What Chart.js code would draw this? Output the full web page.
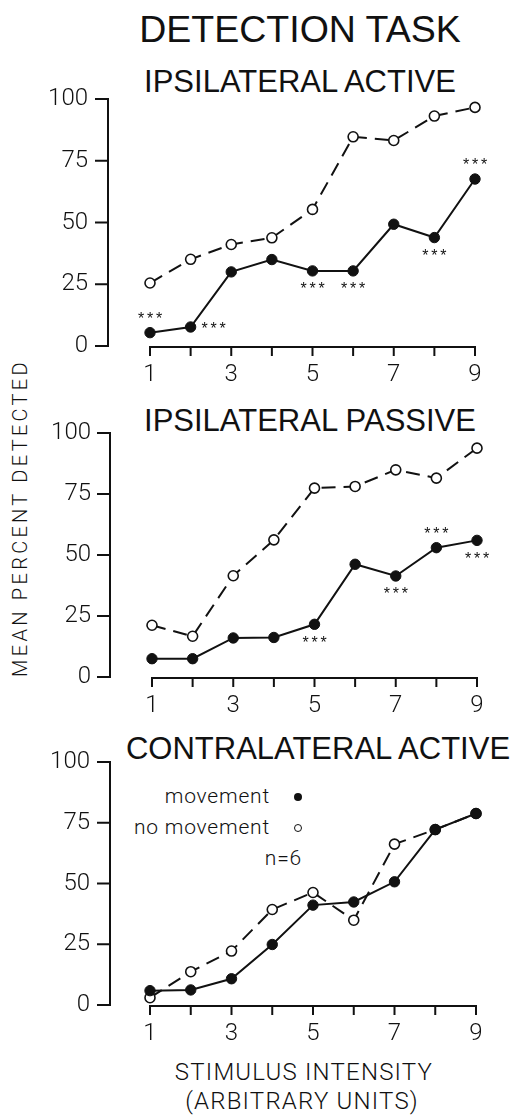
<!DOCTYPE html>
<html><head><meta charset="utf-8">
<script src="https://cdn.jsdelivr.net/npm/chart.js@4"></script>
<style>
html,body{margin:0;padding:0;background:#fff}
body{width:511px;height:1115px;position:relative;overflow:hidden;font-family:"Liberation Sans",Arial,sans-serif;color:#111}
.cv{position:absolute;left:0;width:511px}
.t{position:absolute;white-space:nowrap;transform:translate(-50%,-50%)}
.lt{font-family:Roboto,"Liberation Sans",sans-serif;font-weight:300}
.lg{position:absolute;white-space:nowrap;font-family:Roboto,"Liberation Sans",sans-serif;font-weight:300;font-size:21px;letter-spacing:0.8px;transform:translate(-100%,-50%)}
.dot{position:absolute;width:8px;height:8px;border-radius:50%;transform:translate(-50%,-50%);box-sizing:border-box}
</style></head><body>
<div class="t" style="left:300px;top:29px;font-size:37.5px">DETECTION TASK</div>
<div class="t" style="left:300px;top:82px;font-size:31px">IPSILATERAL ACTIVE</div>
<div class="t" style="left:310px;top:421px;font-size:31px">IPSILATERAL PASSIVE</div>
<div class="t" style="left:318px;top:749px;font-size:31px">CONTRALATERAL ACTIVE</div>
<div class="t lt" style="left:20px;top:518px;font-size:20px;letter-spacing:3.3px;transform:translate(-50%,-50%) rotate(-90deg)">MEAN PERCENT DETECTED</div>
<div class="t lt" style="left:304px;top:1072px;font-size:24px;letter-spacing:1.2px">STIMULUS INTENSITY</div>
<div class="t lt" style="left:302px;top:1101px;font-size:24px;letter-spacing:1.2px">(ARBITRARY UNITS)</div>
<div class="lg" style="left:270px;top:796px">movement</div>
<div class="lg" style="left:270px;top:827px">no movement</div>
<div class="lg" style="left:302px;top:858px">n=6</div>
<div class="dot" style="left:298px;top:797px;background:#111"></div>
<div class="dot" style="left:298px;top:828px;border:1.5px solid #111;background:#fff"></div>
<canvas id="c1" class="cv" style="top:60px;height:340px" width="511" height="340"></canvas>
<canvas id="c2" class="cv" style="top:400px;height:330px" width="511" height="330"></canvas>
<canvas id="c3" class="cv" style="top:730px;height:330px" width="511" height="330"></canvas>
<script>
// ---- data ----
const stimulus = [1, 2, 3, 4, 5, 6, 7, 8, 9];
const labelledX = [1, 3, 5, 7, 9];
const yTicks = [0, 25, 50, 75, 100];

const activeMovement    = [5.4, 7.7, 30, 35, 30.4, 30.4, 49.3, 43.9, 67.6];
const activeNoMovement  = [25.5, 35.1, 41.1, 43.8, 55.3, 84.7, 83.2, 93.1, 96.6];
const passiveMovement   = [7.5, 7.5, 16, 16.2, 21.6, 46.2, 41.4, 53, 56];
const passiveNoMovement = [21.2, 16.7, 41.5, 56.2, 77.4, 78.1, 84.9, 81.5, 93.8];
const contraMovement    = [5.9, 6.2, 10.8, 24.9, 41.1, 42.4, 50.7, 72.2, 78.8];
const contraNoMovement  = [3, 13.7, 22.2, 39.3, 46.3, 34.9, 66.2, 72.2, 78.8];

// significance (***) markers on the movement series
const activeStarX  = [1, 2, 5, 6, 8, 9];
const activeStarAt = ['above', 'right', 'below', 'below', 'below', 'above'];
const passiveStarX  = [5, 7, 8, 9];
const passiveStarAt = ['below', 'below', 'above', 'below'];
const contraStarX  = [];
const contraStarAt = [];

const INK = '#111';
const TICK_FONT = { family: 'Roboto, "Liberation Sans", sans-serif', size: 24, weight: 300 };

const axesPlugin = {
  id: 'axes',
  beforeDatasetsDraw(chart, args, opts) {
    const {ctx, scales: {x, y}} = chart;
    ctx.save();
    ctx.strokeStyle = INK; ctx.lineWidth = 2;
    const yx = x.getPixelForValue(stimulus[0]) - opts.gap;
    const y0 = y.getPixelForValue(0), yTop = y.getPixelForValue(100);
    ctx.beginPath();
    ctx.moveTo(yx, yTop - 1); ctx.lineTo(yx, y0 + 1);
    yTicks.forEach(v => { const p = y.getPixelForValue(v); ctx.moveTo(yx + 1, p); ctx.lineTo(yx - 13, p); });
    ctx.stroke();
    const xy = y0 + 1;
    ctx.beginPath();
    ctx.moveTo(x.getPixelForValue(stimulus[0]) - 1, xy);
    ctx.lineTo(x.getPixelForValue(stimulus[stimulus.length - 1]) + 1, xy);
    stimulus.forEach(v => { const p = x.getPixelForValue(v); ctx.moveTo(p, xy); ctx.lineTo(p, xy + 9); });
    ctx.stroke();
    ctx.restore();
  },
  afterDatasetsDraw(chart, args, opts) {
    const {ctx} = chart;
    const meta = chart.getDatasetMeta(1);
    ctx.save();
    ctx.fillStyle = INK;
    ctx.font = '16px "Liberation Sans", Arial, sans-serif';
    ctx.textAlign = 'center'; ctx.textBaseline = 'middle';
    opts.starX.forEach((sx, k) => {
      const el = meta.data[stimulus.indexOf(sx)];
      let px = el.x, py = el.y;
      const at = opts.starAt[k];
      if (at === 'above') py -= 13;
      else if (at === 'below') py += 19;
      else if (at === 'right') { px += 23; py += 3; }
      [-9, 0, 9].forEach(dx => ctx.fillText('*', px + dx, py));
    });
    ctx.restore();
  }
};

function makePanel(id, top, height, g, noMove, move, starX, starAt) {
  new Chart(document.getElementById(id), {
    type: 'line',
    data: {
      labels: stimulus,
      datasets: [
        { label: 'no movement', data: noMove, order: 1, borderColor: INK, borderWidth: 2, borderDash: [14, 8],
          pointRadius: 5, pointBorderWidth: 1.6, pointBackgroundColor: '#fff', pointBorderColor: INK,
          tension: 0, clip: false },
        { label: 'movement', data: move, order: 0, borderColor: INK, borderWidth: 2,
          pointRadius: 5.2, pointBorderWidth: 1, pointBackgroundColor: INK, pointBorderColor: INK,
          tension: 0, clip: false }
      ]
    },
    options: {
      responsive: false, animation: false, devicePixelRatio: 1,
      layout: { padding: { top: g.y100 - top, right: 511 - g.x9, bottom: 0, left: 0 } },
      plugins: { legend: { display: false }, tooltip: { enabled: false },
                 axes: { gap: g.gap, starX: starX, starAt: starAt } },
      scales: {
        x: {
          type: 'linear', min: 1, max: 9,
          grid: { display: false, drawTicks: false }, border: { display: false },
          afterFit: s => { s.height = top + height - g.y0; s.paddingLeft = 0; s.paddingRight = 0; },
          afterBuildTicks: s => { s.ticks = stimulus.map(v => ({ value: v })); },
          ticks: { autoSkip: false, maxRotation: 0, padding: 15, color: INK, font: TICK_FONT,
                   callback: v => labelledX.includes(v) ? String(v) : '' }
        },
        y: {
          min: 0, max: 100,
          grid: { display: false, drawTicks: false }, border: { display: false },
          afterFit: s => { s.width = g.x1; s.paddingTop = 0; s.paddingBottom = 0; },
          afterBuildTicks: s => { s.ticks = yTicks.map(v => ({ value: v })); },
          ticks: { padding: g.x1 - g.lab, color: INK, font: TICK_FONT }
        }
      }
    },
    plugins: [axesPlugin]
  });
}

makePanel('c1', 60, 340,  { x1: 150, x9: 475, y100: 99,  y0: 346, gap: 42, lab: 88 }, activeNoMovement, activeMovement, activeStarX, activeStarAt);
makePanel('c2', 400, 330, { x1: 152, x9: 477, y100: 433, y0: 677, gap: 42, lab: 91 }, passiveNoMovement, passiveMovement, passiveStarX, passiveStarAt);
makePanel('c3', 730, 330, { x1: 150, x9: 476, y100: 762, y0: 1005, gap: 40, lab: 90 }, contraNoMovement, contraMovement, contraStarX, contraStarAt);
</script>
</body></html>
